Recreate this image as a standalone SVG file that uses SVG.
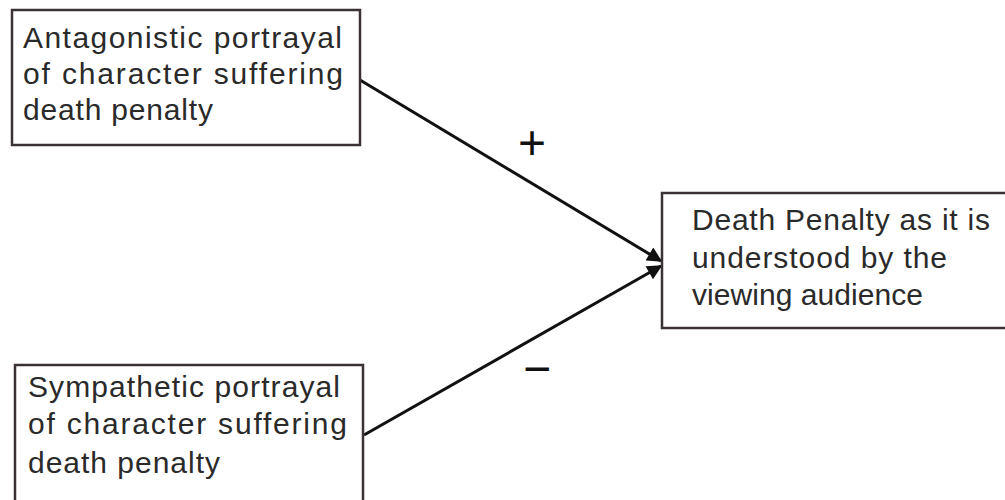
<svg xmlns="http://www.w3.org/2000/svg" width="1005" height="500" viewBox="0 0 1005 500">
<defs>
<style>
.box{fill:#fff;stroke:#3a3234;stroke-width:2.5}
.t{font-family:"Liberation Sans","DejaVu Sans",sans-serif;font-size:30px;fill:#2a2a2a}
.edge{stroke:#111;stroke-width:3;fill:none}
.sign{font-family:"Liberation Sans","DejaVu Sans",sans-serif;font-size:48px;fill:#111;text-anchor:middle}
</style>
<marker id="ah" viewBox="0 0 10 10" refX="9" refY="5" markerWidth="6" markerHeight="5" orient="auto" markerUnits="strokeWidth">
<path d="M0,0 L10,5 L0,10 z" fill="#111"/>
</marker>
</defs>
<rect width="1005" height="500" fill="#fff"/>
<g id="connectors">
<line class="edge" x1="360" y1="80" x2="661" y2="261" marker-end="url(#ah)"/>
<line class="edge" x1="364" y1="435" x2="661" y2="266" marker-end="url(#ah)"/>
<text class="sign" x="532" y="159">+</text>
<text class="sign" x="537" y="385">−</text>
</g>
<g id="node-antagonistic">
<rect class="box" x="12" y="10" width="348" height="135"/>
<text class="t" x="23" y="48" textLength="319">Antagonistic portrayal</text>
<text class="t" x="23" y="84" textLength="320">of character suffering</text>
<text class="t" x="23" y="120" textLength="190">death penalty</text>
</g>
<g id="node-sympathetic">
<rect class="box" x="15" y="365" width="348" height="145"/>
<text class="t" x="28" y="397" textLength="312">Sympathetic portrayal</text>
<text class="t" x="28" y="434" textLength="319">of character suffering</text>
<text class="t" x="28" y="473" textLength="192">death penalty</text>
</g>
<g id="node-deathpenalty">
<rect class="box" x="662" y="193" width="360" height="135"/>
<text class="t" x="692" y="230" textLength="298">Death Penalty as it is</text>
<text class="t" x="692" y="268" textLength="255">understood by the</text>
<text class="t" x="692" y="305" textLength="231">viewing audience</text>
</g>
</svg>
